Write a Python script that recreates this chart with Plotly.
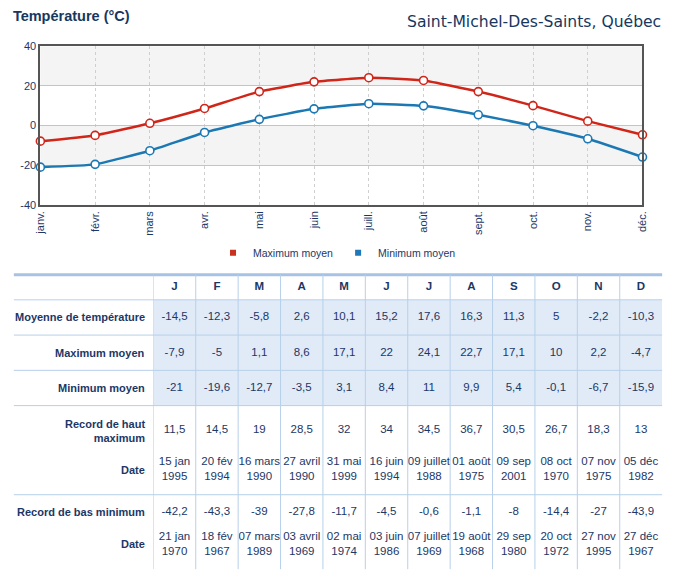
import plotly.graph_objects as go

# ---------------- data ----------------
MONTHS = ["janv.", "févr.", "mars", "avr.", "mai", "juin", "juill.", "août",
          "sept.", "oct.", "nov.", "déc."]
MONTH_INITIALS = ["J", "F", "M", "A", "M", "J", "J", "A", "S", "O", "N", "D"]
Y_TICKS = [-40, -20, 0, 20, 40]
Y_TICK_TEXT = ["-40", "-20", "0", "20", "40"]

MEAN_TEMP = [-14.5, -12.3, -5.8, 2.6, 10.1, 15.2, 17.6, 16.3, 11.3, 5, -2.2, -10.3]
MAX_MEAN = [-7.9, -5, 1.1, 8.6, 17.1, 22, 24.1, 22.7, 17.1, 10, 2.2, -4.7]
MIN_MEAN = [-21, -19.6, -12.7, -3.5, 3.1, 8.4, 11, 9.9, 5.4, -0.1, -6.7, -15.9]
RECORD_HIGH = [11.5, 14.5, 19, 28.5, 32, 34, 34.5, 36.7, 30.5, 26.7, 18.3, 13]
RECORD_HIGH_DATE = ["15 jan 1995", "20 fév 1994", "16 mars 1990", "27 avril 1990",
                    "31 mai 1999", "16 juin 1994", "09 juillet 1988", "01 août 1975",
                    "09 sep 2001", "08 oct 1970", "07 nov 1975", "05 déc 1982"]
RECORD_LOW = [-42.2, -43.3, -39, -27.8, -11.7, -4.5, -0.6, -1.1, -8, -14.4, -27, -43.9]
RECORD_LOW_DATE = ["21 jan 1970", "18 fév 1967", "07 mars 1989", "03 avril 1969",
                   "02 mai 1974", "03 juin 1986", "07 juillet 1969", "19 août 1968",
                   "29 sep 1980", "20 oct 1972", "27 nov 1995", "27 déc 1967"]

SERIES_NAMES = ["Maximum moyen", "Minimum moyen"]
ROW_LABELS = ["Moyenne de température", "Maximum moyen", "Minimum moyen",
              "Record de haut<br>maximum", "Date", "Record de bas minimum", "Date"]
TITLE = "Température (°C)"
LOCATION = "Saint-Michel-Des-Saints, Québec"

# ---------------- styles / layout ----------------
W, H = 676, 583
FONT = "Liberation Sans, Arial, sans-serif"
NAVY = "#1c3766"
TITLE_NAVY = "#17375e"
RED = "#d0261a"
BLUE = "#1b78b3"
LEG_RED = "#c8321f"
LEG_BLUE = "#1f79b8"
GRID_LINE = "#b7d0ea"
TOP_LINE = "#a6c3e5"
CELL_FILL = "#e1ebf8"


def px(p):
    return p / W


def py(p):
    return 1 - p / H


def fmt(v):
    return f"{v:g}".replace(".", ",")


def fmt_date(s):
    d, y = s.rsplit(" ", 1)
    return f"{d}<br>{y}"


fig = go.Figure()

# ---------------- chart ----------------
for name, vals, col in [(SERIES_NAMES[0], MAX_MEAN, RED), (SERIES_NAMES[1], MIN_MEAN, BLUE)]:
    fig.add_trace(go.Scatter(
        x=MONTHS, y=vals, mode="lines+markers", name=name, showlegend=False,
        line=dict(color=col, width=2.5, shape="spline", smoothing=0.4),
        marker=dict(size=8, color="white", line=dict(color=col, width=1.6)),
        cliponaxis=False, hoverinfo="skip", xaxis="x", yaxis="y"))

# legend proxies (square symbols)
for name, col in [(SERIES_NAMES[0], LEG_RED), (SERIES_NAMES[1], LEG_BLUE)]:
    fig.add_trace(go.Scatter(
        x=[None], y=[None], mode="markers", name=name,
        marker=dict(symbol="square", size=6, color=col), xaxis="x", yaxis="y"))

# ---------------- table (scatter text on a pixel-scaled axis) ----------------
TABLE_AXIS_TOP = 262
ROW_Y = {  # vertical text centres, in table-axis units (pixels from page top)
    "head": 287, "mean": 318, "max": 354, "min": 390,
    "rh": 433.5, "rh_date": 473.5, "rb": 517, "rb_date": 549.5,
}
LABEL_Y = [318, 354, 390, 433.5, 473.5, 517, 549.5]
H_LINES = [300, 336, 372, 408, 499]
TABLE_TOP = 274.5
TABLE_BOTTOM = 575

cols = list(range(len(MONTH_INITIALS)))
rows_text = [
    ("head", MONTH_INITIALS, True),
    ("mean", [fmt(v) for v in MEAN_TEMP], False),
    ("max", [fmt(v) for v in MAX_MEAN], False),
    ("min", [fmt(v) for v in MIN_MEAN], False),
    ("rh", [fmt(v) for v in RECORD_HIGH], False),
    ("rh_date", [fmt_date(s) for s in RECORD_HIGH_DATE], False),
    ("rb", [fmt(v) for v in RECORD_LOW], False),
    ("rb_date", [fmt_date(s) for s in RECORD_LOW_DATE], False),
]
for key, texts, bold in rows_text:
    fig.add_trace(go.Scatter(
        x=cols, y=[ROW_Y[key]] * len(cols), mode="text", text=texts,
        textposition="middle center", showlegend=False, hoverinfo="skip",
        textfont=dict(family=FONT, size=11.5, color=NAVY,
                      weight="bold" if bold else "normal"),
        cliponaxis=False, xaxis="x2", yaxis="y2"))

shapes = []
# chart background bands
for y0, y1 in [(20, 40), (-20, 0)]:
    shapes.append(dict(type="rect", xref="x domain", yref="y", x0=0, x1=1, y0=y0, y1=y1,
                       fillcolor="#f4f4f4", line=dict(width=0), layer="below"))
# table cell fills (rows 1-3, data columns)
shapes.append(dict(type="rect", xref="x2", yref="y2", x0=-0.5, x1=11.5, y0=300, y1=408,
                   fillcolor=CELL_FILL, line=dict(width=0), layer="below"))
# table horizontal lines
for yv in H_LINES:
    shapes.append(dict(type="line", xref="paper", yref="y2", x0=px(8), x1=px(668),
                       y0=yv, y1=yv, line=dict(color=GRID_LINE, width=1)))
shapes.append(dict(type="line", xref="paper", yref="y2", x0=px(8), x1=px(668),
                   y0=TABLE_TOP, y1=TABLE_TOP, line=dict(color=TOP_LINE, width=3)))
# table vertical lines
for c in cols:
    shapes.append(dict(type="line", xref="x2", yref="y2", x0=c - 0.5, x1=c - 0.5,
                       y0=TABLE_TOP, y1=TABLE_BOTTOM, line=dict(color=GRID_LINE, width=1)))

annotations = [
    dict(text=LOCATION, xref="paper", yref="paper", x=px(669), y=py(16),
         xanchor="right", yanchor="middle", showarrow=False,
         font=dict(family="DejaVu Sans, sans-serif", size=15.6, color=TITLE_NAVY)),
]
for lbl, yv in zip(ROW_LABELS, LABEL_Y):
    annotations.append(dict(
        text=lbl, xref="paper", yref="y2", x=px(144), y=yv, xanchor="right",
        yanchor="middle", align="right", showarrow=False,
        font=dict(family=FONT, size=11, color=NAVY, weight="bold")))

fig.update_layout(
    width=W, height=H, autosize=False,
    margin=dict(l=0, r=0, t=0, b=0),
    paper_bgcolor="white", plot_bgcolor="rgba(0,0,0,0)",
    title=dict(text=TITLE, x=px(7), xanchor="left", xref="paper",
               y=py(16), yanchor="middle", yref="container",
               font=dict(family=FONT, size=14.5, color=TITLE_NAVY, weight="bold")),
    xaxis=dict(domain=[px(35), px(648)], type="category", range=[0, 11],
               showgrid=True, gridcolor="#cfcfcf", griddash="dot", gridwidth=1,
               showline=True, mirror=True, linecolor="#555555", linewidth=2,
               ticks="", tickangle=-90, anchor="y",
               tickfont=dict(family=FONT, size=11, color=NAVY)),
    yaxis=dict(domain=[py(203), py(41)], range=[-40, 40], tickvals=Y_TICKS,
               ticktext=Y_TICK_TEXT,
               showgrid=True, gridcolor="#c4c4c4", gridwidth=1, zeroline=False,
               showline=True, mirror=True, linecolor="#555555", linewidth=2,
               ticks="", anchor="x",
               tickfont=dict(family=FONT, size=11, color=NAVY)),
    xaxis2=dict(domain=[px(150), px(668)], range=[-0.5, 11.5], visible=False,
                anchor="y2", fixedrange=True),
    yaxis2=dict(domain=[0, py(TABLE_AXIS_TOP)], range=[H, TABLE_AXIS_TOP],
                visible=False, anchor="x2", fixedrange=True),
    legend=dict(orientation="h", x=px(337), xanchor="center", y=py(252),
                yanchor="middle", font=dict(family=FONT, size=10.5, color=NAVY),
                itemwidth=30, bgcolor="rgba(0,0,0,0)"),
    shapes=shapes,
    annotations=annotations,
    showlegend=True,
)

fig.write_html(
    "out.html",
    config={"displayModeBar": False, "staticPlot": True},
    post_script="document.body.style.margin='0';document.body.style.overflow='hidden';",
)
